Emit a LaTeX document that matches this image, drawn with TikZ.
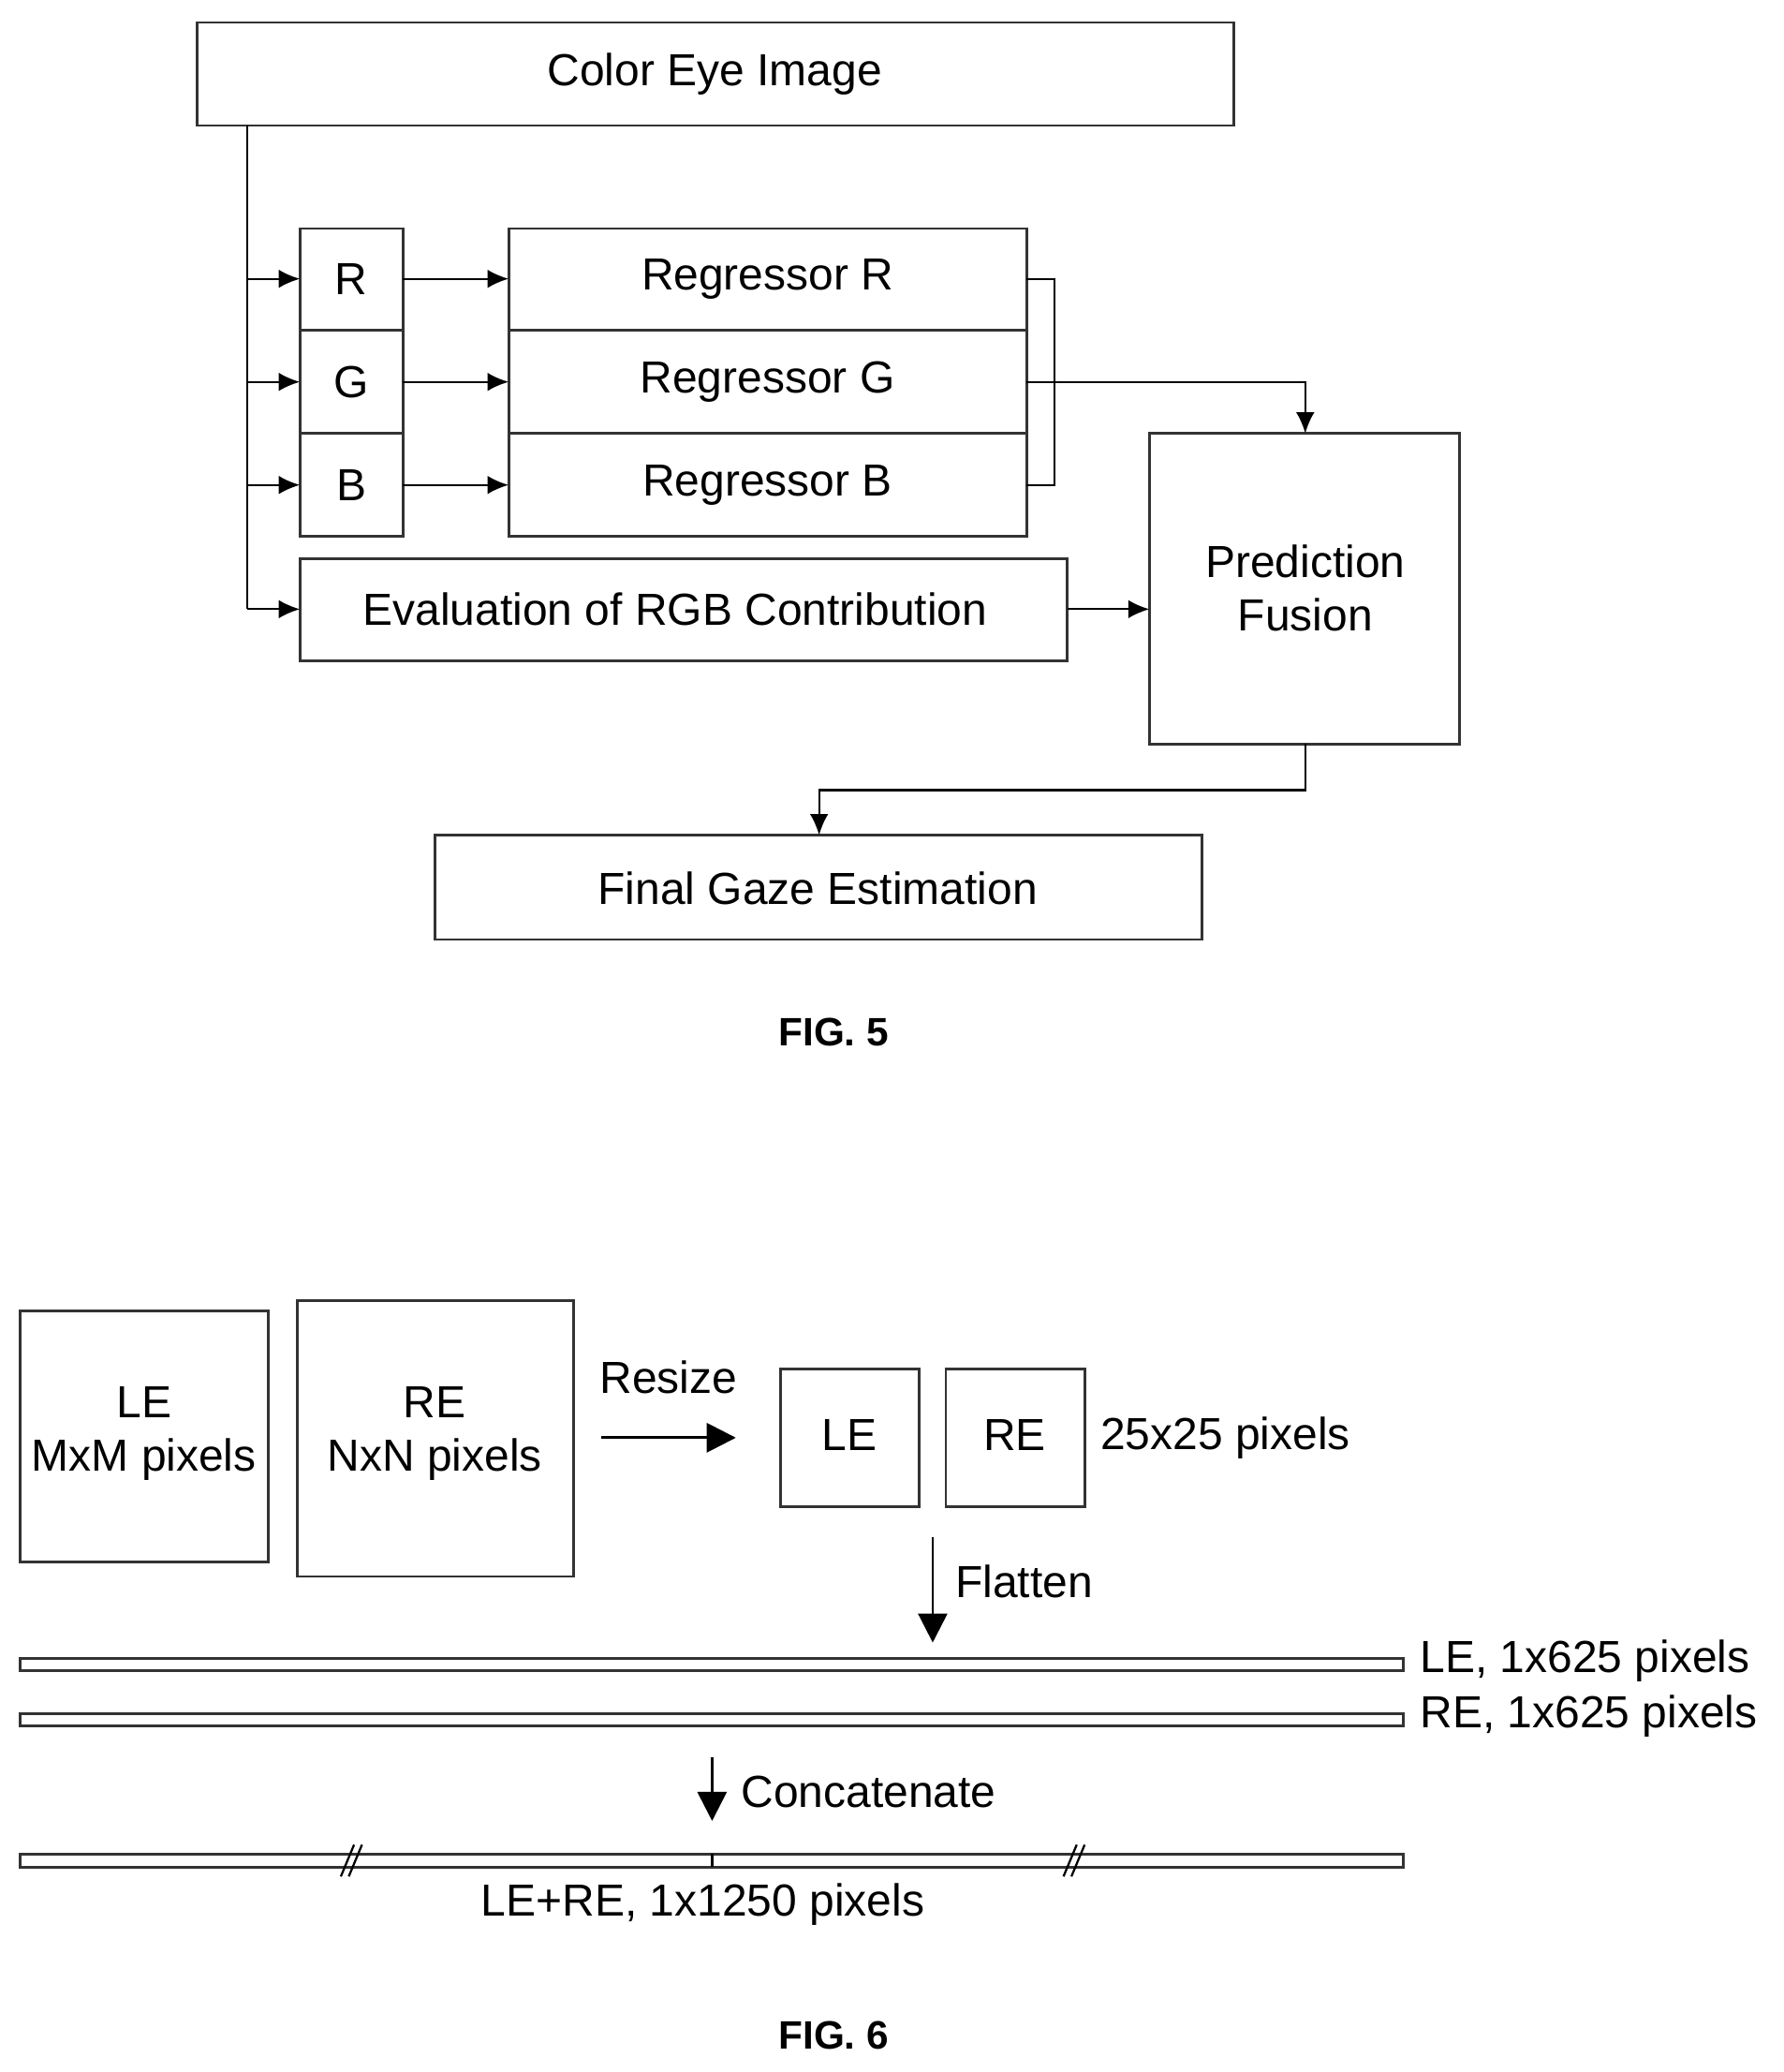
\documentclass[tikz,border=0pt]{standalone}
\usepackage{fontspec}
\setmainfont{Liberation Sans}
\usetikzlibrary{arrows.meta}
\begin{document}
\begin{tikzpicture}[x=0.5pt,y=-0.5pt,
  bx/.style={draw=black!80,line width=1pt},
  ar/.style={-{Latex[length=8pt,width=7pt]},line width=0.8pt},
  ln/.style={line width=0.8pt},
  tx/.style={font=\fontsize{17}{20}\selectfont},
  big/.style={-{Triangle[length=11pt,width=11pt]},line width=1pt}]
\useasboundingbox (0,0) rectangle (1350,1568);
% FIG 5
\draw[bx] (149,17) rectangle (934,95); \node[tx] (cei) at (541,56) {Color Eye Image};
\coordinate (c0) at (187,95);
\draw[bx] (227,173) rectangle (305,250); \node[tx] (r) at (266,211) {R};
\draw[bx] (227,250) rectangle (305,328); \node[tx] (g) at (266,289) {G};
\draw[bx] (227,328) rectangle (305,406); \node[tx] (b) at (266,367) {B};
\draw[bx] (385,173) rectangle (777,250); \node[tx] (rr) at (581,211) {Regressor R};
\draw[bx] (385,250) rectangle (777,328); \node[tx] (rg) at (581,289) {Regressor G};
\draw[bx] (385,328) rectangle (777,406); \node[tx] (rb) at (581,367) {Regressor B};
\draw[bx] (227,423) rectangle (808,500); \node[tx] (ev) at (511,461) {Evaluation of RGB Contribution};
\draw[bx] (870,328) rectangle (1105,563); \node[tx,align=center] (pf) at (988,445) {Prediction\\Fusion};
\draw[bx] (329,632) rectangle (910,711); \node[tx] (fg) at (619,672) {Final Gaze Estimation};
\draw[ln] (c0) -- (187,461);
\foreach \y in {211,289,367,461} \draw[ar] (187,\y) -- (227,\y);
\foreach \y in {211,289,367} \draw[ar] (305,\y) -- (385,\y);
\draw[ln] (777,211) -- (798,211) -- (798,367) -- (777,367);
\draw[ar] (777,289) -- (988,289) -- (988,328);
\draw[ar] (808,461) -- (870,461);
\draw[ar] (988,563) -- (988,598) -- (620,598) -- (620,632);
\node[font=\bfseries\fontsize{15}{18}\selectfont] (f5) at (631,781) {FIG. 5};
% FIG 6
\draw[bx] (15,992) rectangle (203,1182); \node[tx,align=center] (le) at (109,1085) {LE\\MxM pixels};
\draw[bx] (225,984) rectangle (434,1193); \node[tx,align=center] (re) at (329,1085) {RE\\NxN pixels};
\node[tx] (rs) at (506,1042) {Resize};
\draw[big] (455,1088) -- (557,1088);
\draw[bx] (591,1036) rectangle (696,1140); \node[tx] (le2) at (643,1086) {LE};
\draw[bx] (716,1036) rectangle (821,1140); \node[tx] (re2) at (768,1086) {RE};
\node[tx,anchor=west] (p25) at (826,1088) {25x25 pixels};
\draw[big] (706,1163) -- (706,1243);
\node[tx,anchor=west] (fl) at (716,1197) {Flatten};
\draw[bx] (15,1255) rectangle (1062,1264); \node[tx,anchor=west] (l1) at (1068,1257) {LE, 1x625 pixels};
\draw[bx] (15,1297) rectangle (1062,1306); \node[tx,anchor=west] (l2) at (1068,1299) {RE, 1x625 pixels};
\draw[big] (539,1330) -- (539,1378);
\node[tx,anchor=west] (cc) at (554,1356) {Concatenate};
\draw[bx] (15,1403) rectangle (1062,1413);
\draw[ln] (539,1403) -- (539,1413);
\foreach \x in {268,815} {\draw[ln] (\x-10,1420) -- (\x,1396); \draw[ln] (\x-4,1420) -- (\x+6,1396);}
\node[tx] (l3) at (532,1441) {LE+RE, 1x1250 pixels};
\node[font=\bfseries\fontsize{15}{18}\selectfont] (f6) at (631,1540) {FIG. 6};
\end{tikzpicture}
\end{document}
